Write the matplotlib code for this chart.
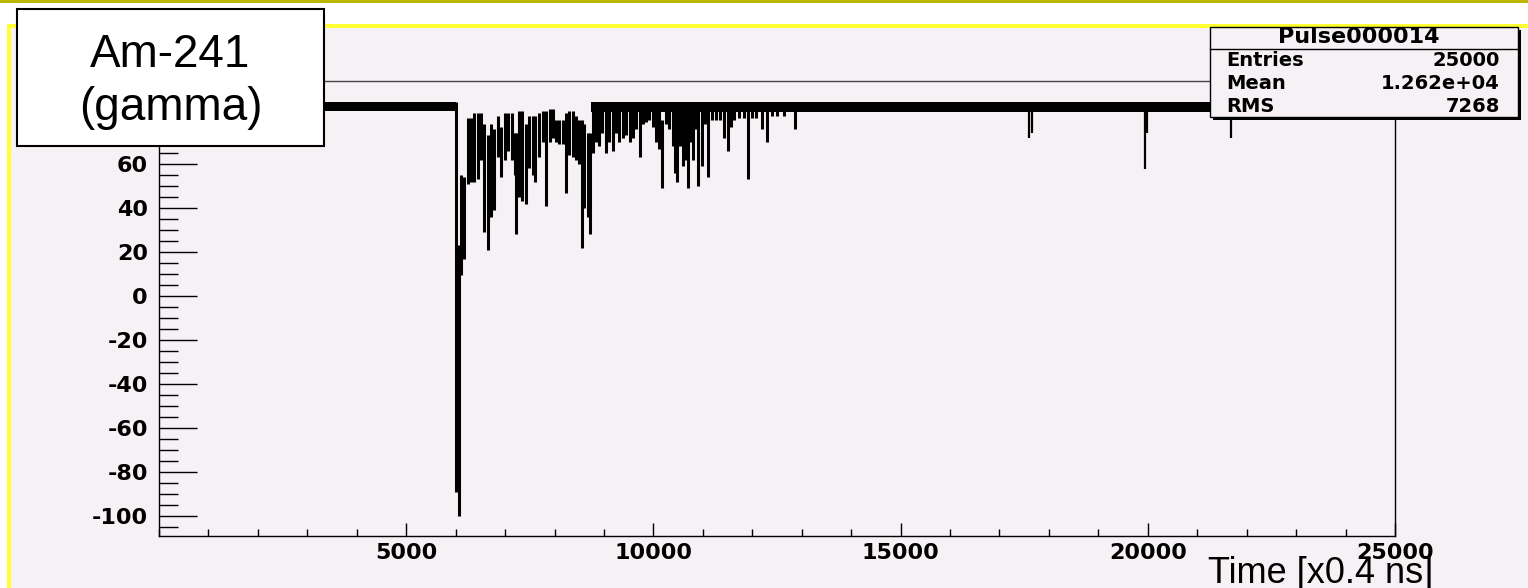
import matplotlib.pyplot as plt
from matplotlib.patches import Rectangle
from matplotlib.lines import Line2D
from matplotlib.ticker import MultipleLocator

plt.rcParams['axes.unicode_minus'] = False

W, H = 1528, 588
PAD_BG = '#f5f1f5'

# baseline band of the trace (ADC counts), before the pulse and in its tail
base_start = [0, 8740]
base_end = [6010, 25000]
base_lo = [84, 83.5]
base_hi = [88, 88]

# pulse region: per-column envelope (time bin, top, bottom)
pulse_t = [6016, 6070, 6117, 6178, 6245, 6313, 6380, 6447, 6515, 6582,
           6649, 6710, 6780, 6850, 6920, 6990, 7060, 7130, 7200, 7230,
           7290, 7350, 7420, 7490, 7560, 7610, 7690, 7760, 7830, 7900,
           7960, 8030, 8100, 8170, 8230, 8300, 8370, 8430, 8500, 8555,
           8600, 8670, 8717, 8770, 8840, 8900, 8970, 9040, 9110, 9180,
           9240, 9310, 9380, 9450, 9520, 9580, 9650, 9727, 9790, 9850,
           9920, 9990, 10060, 10120, 10165, 10250, 10320, 10390, 10440, 10481,
           10540, 10600, 10650, 10690, 10750, 10791, 10850, 10905, 10979, 11050,
           11114, 11180, 11262, 11340, 11431, 11500, 11560, 11640, 11740, 11830,
           11915, 12000, 12080, 12200, 12306, 12400, 12500, 12650, 12865]
pulse_hi = [88, 23, 55, 54, 81, 81, 83, 83, 83, 78,
            73, 78, 76, 82, 77, 83, 83, 83, 74, 74,
            84, 84, 78, 82, 82, 82, 83, 84, 84, 85,
            85, 80, 80, 80, 83, 84, 84, 82, 80, 80,
            78, 74, 74, 86, 86, 85, 85, 84, 84, 84,
            85, 84, 84, 84, 84, 85, 86, 86, 86, 86,
            86, 86, 86, 85, 80, 86, 86, 85, 84, 84,
            86, 86, 85, 84, 86, 86, 86, 86, 86, 86,
            86, 87, 87, 87, 86, 86, 86, 87, 87, 87,
            86, 87, 87, 87, 86, 87, 87, 87, 87]
pulse_lo = [-89, -100, 9.5, 17, 51, 52, 52, 53, 62, 29,
            21, 36, 39, 63, 54, 62, 66, 62, 55, 28,
            45, 43, 42, 58, 55, 52, 63, 70, 41, 70,
            72, 70, 69, 69, 47, 64, 63, 62, 60, 22,
            40, 36, 28, 65, 70, 68, 74, 65, 70, 66,
            74, 70, 72, 73, 70, 72, 76, 63, 78, 79,
            80, 77, 70, 67, 49, 78, 76, 68, 56, 52,
            68, 59, 62, 49, 70, 62, 76, 50, 59, 78,
            54, 80, 80, 80, 72, 66, 77, 80, 81, 81,
            53, 81, 81, 76, 70, 82, 82, 82, 76]

# isolated late spikes (time bin, lowest value)
spike_t = [17600, 17650, 19950, 19990, 21690]
spike_lo = [72, 74, 57.5, 74, 72]

stats_names = ['Entries', 'Mean', 'RMS']
stats_values = ['25000', '1.262e+04', '7268']

fig = plt.figure(figsize=(W / 100, H / 100), dpi=100)
fig.patch.set_facecolor('white')


def px(x0, y0, x1, y1):
    # pixel box (from top-left) -> figure coords
    return x0 / W, 1 - y1 / H, (x1 - x0) / W, (y1 - y0) / H


def rect(x0, y0, x1, y1, **kw):
    l, b, w, h = px(x0, y0, x1, y1)
    r = Rectangle((l, b), w, h, transform=fig.transFigure, **kw)
    fig.patches.append(r)
    return r


# pad background, yellow frame, top strip
rect(11, 28, W, H, facecolor=PAD_BG, edgecolor='none', zorder=-5)
rect(0, 0, W, 3, facecolor='#bdb600', edgecolor='none', zorder=-4)
rect(7, 24, W, 28, facecolor='#ffff33', edgecolor='none', zorder=-4)
rect(7, 24, 11, H, facecolor='#ffff33', edgecolor='none', zorder=-4)

ax = fig.add_axes(px(159, 81, 1395, 536))
ax.set_facecolor(PAD_BG)

for s, e, lo, hi in zip(base_start, base_end, base_lo, base_hi):
    ax.fill_between([s, e], lo, hi, color='black', lw=0)
ax.vlines(pulse_t, pulse_lo, pulse_hi, color='black', lw=2.2)
ax.vlines(spike_t, spike_lo, 85, color='black', lw=1.6)

ax.set_xlim(0, 25000)
ax.set_ylim(-109, 97.7)
ax.set_xticks([5000, 10000, 15000, 20000, 25000])
ax.xaxis.set_minor_locator(MultipleLocator(1000))
yt = list(range(-100, 81, 20))
ax.set_yticks(yt)
# the 80 label sits under the source box in the original
ax.set_yticklabels([str(v) if v < 80 else '' for v in yt])
ax.yaxis.set_minor_locator(MultipleLocator(5))
ax.tick_params(axis='x', which='major', direction='in', length=9.5, width=1,
               pad=5, labelsize=16)
ax.tick_params(axis='x', which='minor', direction='in', length=5, width=1)
ax.tick_params(axis='y', which='major', direction='in', length=27, width=1,
               pad=8, labelsize=16)
ax.tick_params(axis='y', which='minor', direction='in', length=14, width=1)
for lab in ax.get_xticklabels() + ax.get_yticklabels():
    lab.set_fontweight('bold')
    lab.set_family('DejaVu Sans')
for sp in ax.spines.values():
    sp.set_linewidth(1)
ax.spines['top'].set_color('#444444')

# source label box
rect(17, 9, 324, 146, facecolor='white', edgecolor='black', lw=1.5, zorder=5)
fig.text(170.5 / W, 1 - 67 / H, 'Am-241', ha='center', va='baseline',
         fontsize=33, family='Liberation Sans', zorder=6)
fig.text(170.5 / W, 1 - 120 / H, '(gamma)', ha='center', va='baseline',
         fontsize=33, family='Liberation Sans', zorder=6)

# stats box with shadow
rect(1213, 30, 1521, 120, facecolor='black', edgecolor='none', zorder=5)
rect(1210, 27, 1518, 117, facecolor=PAD_BG, edgecolor='black', lw=1, zorder=6)
fig.lines.append(Line2D([1210 / W, 1518 / W], [1 - 49 / H, 1 - 49 / H],
                        transform=fig.transFigure, color='black', lw=1, zorder=7))
fig.text(1359 / W, 1 - 43 / H, 'Pulse000014', ha='center', va='baseline',
         fontsize=16, fontweight='bold', family='DejaVu Sans', zorder=8)
for i, (name, val) in enumerate(zip(stats_names, stats_values)):
    yb = 1 - (66 + 23 * i) / H
    fig.text(1226 / W, yb, name, ha='left', va='baseline', fontsize=14,
             fontweight='bold', family='DejaVu Sans', zorder=8)
    fig.text(1500 / W, yb, val, ha='right', va='baseline', fontsize=14,
             fontweight='bold', family='DejaVu Sans', zorder=8)

fig.text(1433 / W, 1 - 583 / H, 'Time [x0.4 ns]', ha='right', va='baseline',
         fontsize=26, family='Liberation Sans', zorder=8)

fig.savefig('out.png', dpi=100)
